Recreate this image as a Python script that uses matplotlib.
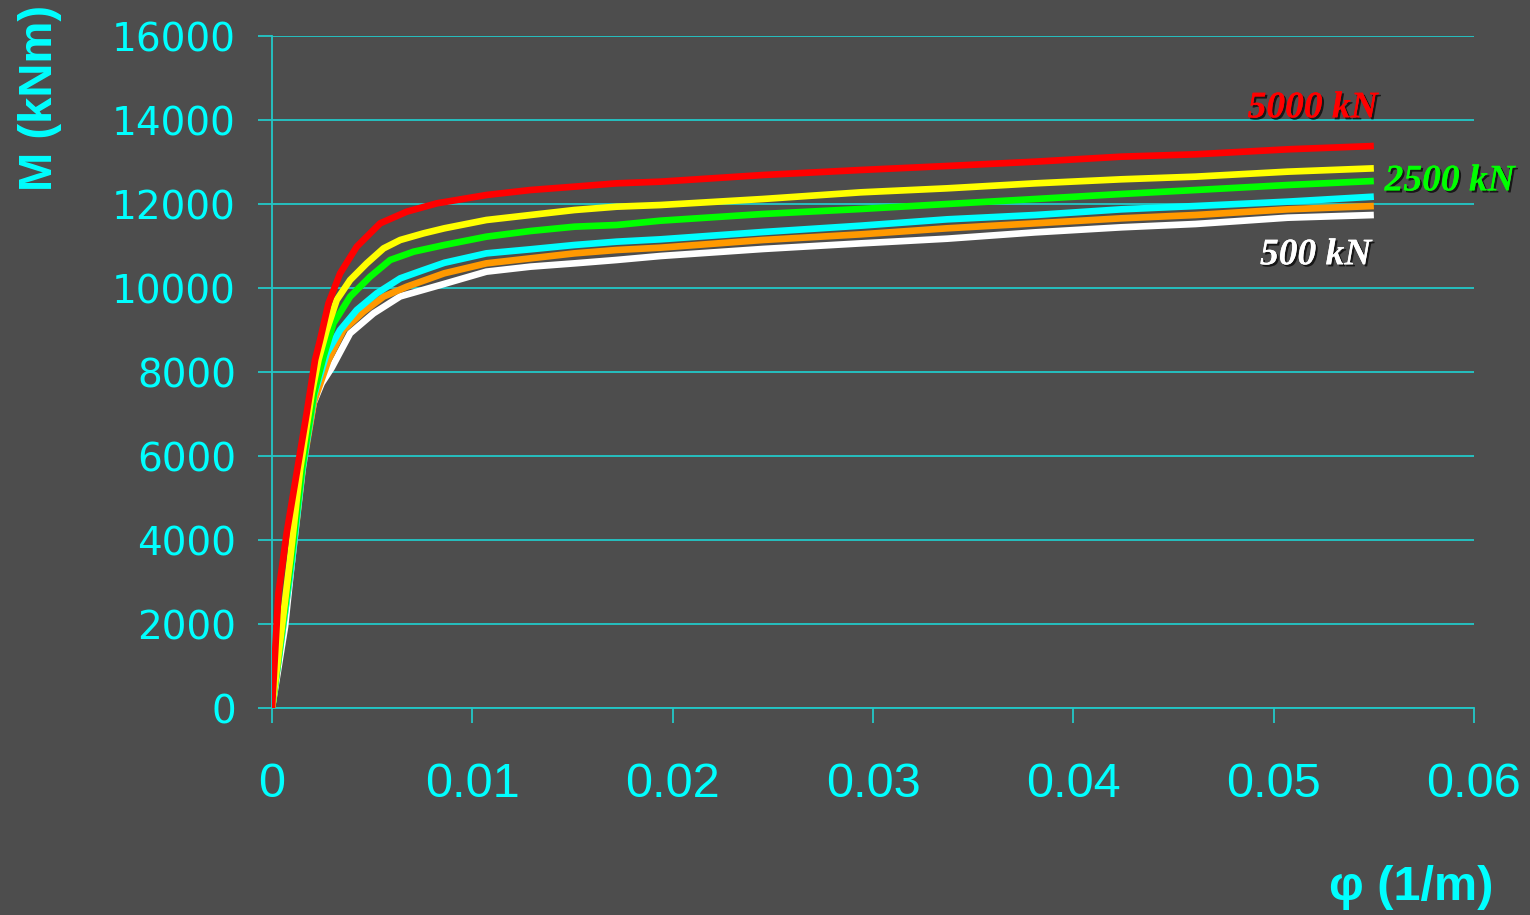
#!/usr/bin/env python3
"""Moment-curvature curves for several axial loads (dark slide style)."""
import matplotlib
matplotlib.use('Agg')
import matplotlib.pyplot as plt
import matplotlib.patheffects as pe

OUTPUT_FILE = 'out.png'

COLOR_BG = '#4d4d4d'
COLOR_AXIS = '#00ffff'
COLOR_GRID = '#22c8c8'

# curvature (1/m) and moment (kNm)
PHI_RED = [0, 0.00032, 0.00073, 0.00123, 0.00173, 0.00215, 0.0024, 0.00282, 0.0034,
           0.00423, 0.0054, 0.00673, 0.00823, 0.0107, 0.0129, 0.0151, 0.0172, 0.0194,
           0.0245, 0.0294, 0.0337, 0.0381, 0.0424, 0.0461, 0.0507, 0.055]
M_RED = [0, 2730, 4159, 5587, 7016, 8286, 8762, 9635, 10349,
         10984, 11540, 11818, 12016, 12214, 12333, 12413, 12492, 12532,
         12690, 12810, 12905, 13008, 13127, 13183, 13302, 13381]

PHI_YELLOW = [0, 0.0009, 0.0014, 0.00198, 0.00232, 0.00273, 0.00323, 0.0039, 0.00473,
              0.00557, 0.0064, 0.00757, 0.0086, 0.0107, 0.0129, 0.0151, 0.0172, 0.0194,
              0.0245, 0.0294, 0.0337, 0.0381, 0.0424, 0.0461, 0.0507, 0.055]
M_YELLOW = [0, 3524, 5667, 7492, 8286, 9000, 9714, 10190, 10587,
            10944, 11143, 11302, 11421, 11619, 11738, 11857, 11936, 11976,
            12119, 12278, 12373, 12492, 12588, 12651, 12770, 12849]

PHI_GREEN = [0, 0.00095, 0.0015, 0.0021, 0.00257, 0.00307, 0.0039, 0.0049, 0.0059,
             0.00707, 0.0086, 0.0107, 0.0129, 0.0151, 0.0172, 0.0194,
             0.0245, 0.0294, 0.0337, 0.0381, 0.0424, 0.0461, 0.0507, 0.055]
M_GREEN = [0, 3500, 5700, 7500, 8365, 9159, 9794, 10270, 10667,
           10865, 11024, 11222, 11357, 11460, 11500, 11603,
           11762, 11881, 12000, 12119, 12238, 12333, 12452, 12548]

PHI_CYAN = [0, 0.001, 0.0015, 0.0021, 0.00273, 0.0034, 0.00423, 0.00523, 0.0064,
            0.00757, 0.0086, 0.0107, 0.0129, 0.0151, 0.0172, 0.0194,
            0.0245, 0.0294, 0.0337, 0.0381, 0.0424, 0.0461, 0.0507, 0.055]
M_CYAN = [0, 3500, 5600, 7450, 8444, 9000, 9476, 9873, 10230,
          10429, 10600, 10825, 10921, 11024, 11103, 11159,
          11333, 11484, 11635, 11738, 11873, 11952, 12056, 12175]

PHI_ORANGE = [0, 0.00105, 0.00155, 0.0021, 0.00282, 0.00357, 0.00457, 0.00557, 0.00673,
              0.0086, 0.0107, 0.0129, 0.0151, 0.0172, 0.0194,
              0.0245, 0.0294, 0.0337, 0.0381, 0.0424, 0.0461, 0.0507, 0.055]
M_ORANGE = [0, 3700, 5750, 7300, 8286, 9000, 9437, 9794, 10032,
            10350, 10587, 10706, 10825, 10905, 10960,
            11143, 11278, 11421, 11540, 11659, 11738, 11873, 11952]

PHI_WHITE = [0, 0.00065, 0.00107, 0.00157, 0.00207, 0.00248, 0.00298, 0.0039, 0.00507,
             0.0064, 0.0084, 0.0107, 0.0129, 0.0151, 0.0172, 0.0194,
             0.0245, 0.0294, 0.0337, 0.0381, 0.0424, 0.0461, 0.0507, 0.055]
M_WHITE = [0, 1937, 3841, 5905, 7254, 7730, 8100, 8921, 9397,
           9800, 10071, 10389, 10508, 10587, 10667, 10762,
           10929, 11063, 11174, 11325, 11445, 11524, 11674, 11738]

X_TICKS = [0, 0.01, 0.02, 0.03, 0.04, 0.05, 0.06]
X_TICK_LABELS = ['0', '0.01', '0.02', '0.03', '0.04', '0.05', '0.06']
Y_TICKS = [0, 2000, 4000, 6000, 8000, 10000, 12000, 14000, 16000]

LOAD_LABELS = ['5000 kN', '2500 kN', '500 kN']


def main():
    fig = plt.figure(figsize=(15.3, 9.15), dpi=100)
    fig.patch.set_facecolor(COLOR_BG)
    ax = fig.add_axes([272 / 1530, 1 - 708 / 915, 1202 / 1530, 672 / 915])
    ax.set_facecolor(COLOR_BG)

    # grid first so the curves sit on top
    for y in Y_TICKS:
        ax.axhline(y, color=COLOR_GRID, linewidth=1.3, zorder=1)

    series = [
        (PHI_WHITE, M_WHITE, '#ffffff'),
        (PHI_ORANGE, M_ORANGE, '#ff9900'),
        (PHI_CYAN, M_CYAN, '#00ffff'),
        (PHI_GREEN, M_GREEN, '#00ff00'),
        (PHI_YELLOW, M_YELLOW, '#ffff00'),
        (PHI_RED, M_RED, '#ff0000'),
    ]
    for phi, m, color in series:
        ax.plot(phi, m, color=color, linewidth=4.8, solid_joinstyle='round',
                solid_capstyle='butt', zorder=3)

    ax.set_xlim(0, 0.06)
    ax.set_ylim(0, 16000)
    ax.set_xticks(X_TICKS)
    ax.set_xticklabels(X_TICK_LABELS)
    ax.set_yticks(Y_TICKS)
    ax.set_yticklabels([str(v) for v in Y_TICKS])

    for side in ['top', 'right']:
        ax.spines[side].set_visible(False)
    for side in ['left', 'bottom']:
        ax.spines[side].set_color(COLOR_GRID)
        ax.spines[side].set_linewidth(1.3)

    ax.tick_params(axis='y', colors=COLOR_GRID, labelcolor=COLOR_AXIS, direction='out',
                   length=10, width=1.3, pad=16, labelsize=28)
    ax.tick_params(axis='x', colors=COLOR_GRID, labelcolor=COLOR_AXIS, direction='out',
                   length=11, width=1.3, pad=28, labelsize=35)
    for lbl in ax.get_yticklabels():
        lbl.set_family('DejaVu Sans')
    for lbl in ax.get_xticklabels():
        lbl.set_family('Liberation Sans')

    # axis titles
    fig.text(40 / 1530, 1 - 98 / 915, 'M (kNm)', rotation=90, color=COLOR_AXIS,
             fontsize=34, fontweight='bold', family='Liberation Sans',
             ha='center', va='center')
    fig.text(1411 / 1530, 1 - 888 / 915, 'φ (1/m)', color=COLOR_AXIS,
             fontsize=35, fontweight='bold', family='Liberation Sans',
             ha='center', va='center')

    # load labels with a soft drop shadow
    shadow = [pe.withSimplePatchShadow(offset=(1.5, -1.5), shadow_rgbFace='black',
                                       alpha=0.7), pe.Normal()]
    label_style = dict(fontsize=27, fontweight='bold', fontstyle='italic',
                       family='Liberation Serif', va='center', zorder=5,
                       clip_on=False, path_effects=shadow)
    ax.text(0.05195, 14290, LOAD_LABELS[0], color='#ff0000', ha='center', **label_style)
    ax.text(0.05554, 12550, LOAD_LABELS[1], color='#00ff00', ha='left', **label_style)
    ax.text(0.0521, 10790, LOAD_LABELS[2], color='#ffffff', ha='center', **label_style)

    fig.savefig(OUTPUT_FILE, dpi=100, facecolor=COLOR_BG)
    plt.close(fig)


if __name__ == '__main__':
    main()
